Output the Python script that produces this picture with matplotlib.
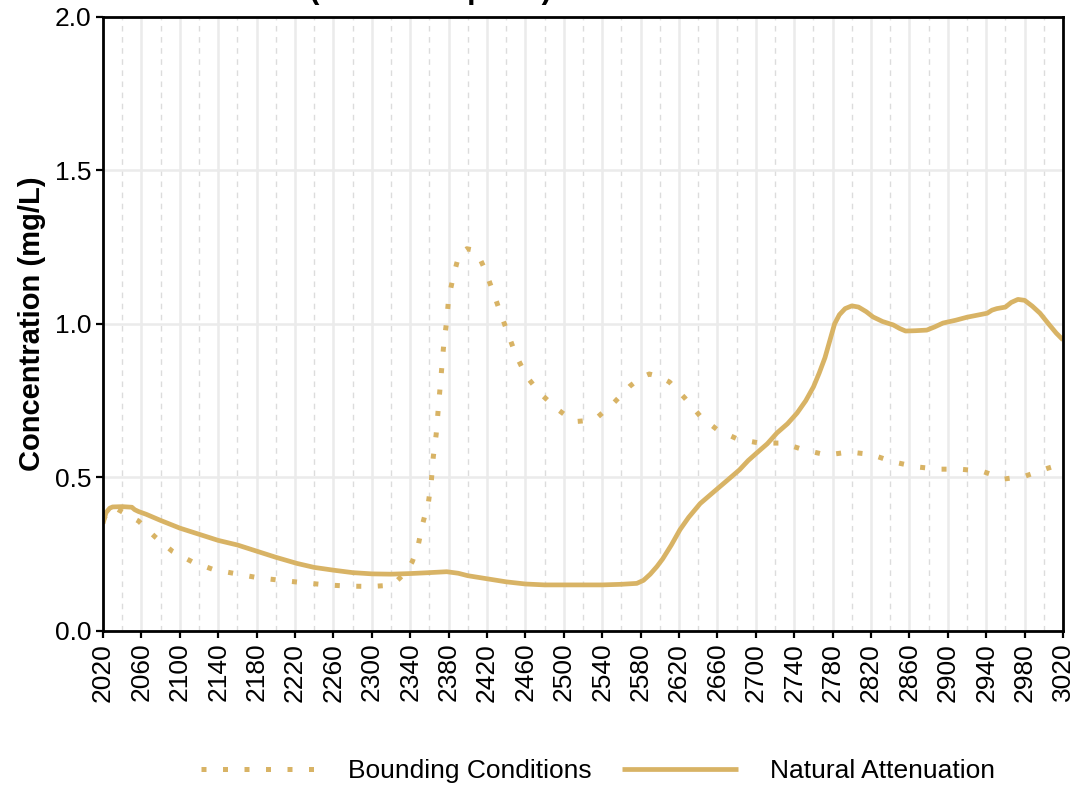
import numpy as np
import matplotlib.pyplot as plt

# Natural Attenuation (solid)
na_year = [2020, 2023, 2027, 2030, 2040, 2050, 2053, 2057, 2065, 2080, 2100, 2120, 2140, 2160,
           2180, 2200, 2222, 2240, 2260, 2280, 2300, 2320, 2340, 2360, 2378, 2390, 2400, 2420,
           2440, 2460, 2480, 2500, 2520, 2540, 2560, 2576, 2583, 2590, 2597, 2603, 2612, 2621,
           2630, 2642, 2655, 2670, 2683, 2692, 2701, 2712, 2722, 2733, 2743, 2752, 2760, 2766,
           2772, 2777, 2782, 2787, 2793, 2800, 2807, 2815, 2822, 2832, 2843, 2850, 2856, 2866,
           2878, 2886, 2895, 2908, 2920, 2941, 2946, 2951, 2960, 2966, 2973, 2980, 2988, 2996,
           3005, 3013, 3020]
na_conc = [0.35, 0.385, 0.40, 0.404, 0.405, 0.403, 0.395, 0.389, 0.38, 0.36, 0.335, 0.315, 0.295, 0.28,
           0.26, 0.24, 0.22, 0.207, 0.198, 0.19, 0.186, 0.185, 0.187, 0.19, 0.193, 0.188, 0.18, 0.17,
           0.16, 0.153, 0.15, 0.15, 0.15, 0.15, 0.152, 0.155, 0.165, 0.185, 0.21, 0.235, 0.28, 0.33,
           0.37, 0.415, 0.45, 0.49, 0.525, 0.555, 0.58, 0.61, 0.645, 0.675, 0.71, 0.75, 0.795, 0.84,
           0.89, 0.945, 1.0, 1.03, 1.05, 1.059, 1.055, 1.04, 1.023, 1.008, 0.997, 0.985, 0.977, 0.978,
           0.98, 0.99, 1.003, 1.012, 1.022, 1.035, 1.045, 1.05, 1.055, 1.07, 1.08, 1.077, 1.058, 1.035,
           1.0, 0.97, 0.948]

# Bounding Conditions (dotted)
bc_year = [2020, 2025, 2033, 2040, 2057, 2074, 2092, 2113, 2135, 2159, 2182, 2205, 2229, 2253,
           2276, 2300, 2315, 2325, 2335, 2342, 2348, 2353, 2359, 2362, 2364, 2367, 2369, 2371,
           2373, 2375, 2378, 2380, 2385, 2391, 2399, 2407, 2413, 2418, 2426, 2434, 2442, 2450,
           2461, 2475, 2493, 2505, 2512, 2523, 2535, 2552, 2569, 2580, 2589, 2600, 2610, 2626,
           2642, 2660, 2681, 2704, 2728, 2750, 2774, 2797, 2820, 2843, 2866, 2890, 2913, 2936,
           2959, 2981, 3004, 3020]
bc_conc = [0.36, 0.39, 0.40, 0.388, 0.358, 0.307, 0.26, 0.225, 0.20, 0.186, 0.173, 0.165, 0.157, 0.15,
           0.146, 0.145, 0.148, 0.16, 0.19, 0.225, 0.275, 0.35, 0.42, 0.49, 0.567, 0.64, 0.716, 0.79,
           0.863, 0.937, 1.01, 1.084, 1.157, 1.228, 1.245, 1.24, 1.21, 1.176, 1.107, 1.036, 0.967, 0.899,
           0.83, 0.775, 0.723, 0.695, 0.682, 0.685, 0.696, 0.743, 0.798, 0.825, 0.837, 0.828, 0.811, 0.759,
           0.70, 0.655, 0.625, 0.612, 0.612, 0.59, 0.573, 0.583, 0.575, 0.551, 0.535, 0.527, 0.527, 0.52,
           0.495, 0.505, 0.53, 0.545]

x_ticks = list(range(2020, 3021, 40))
x_minor = list(range(2040, 3020, 40))
y_ticks = [0.0, 0.5, 1.0, 1.5, 2.0]

gold = '#D8B365'
plt.rcParams['font.family'] = ['Liberation Sans', 'DejaVu Sans']

fig = plt.figure(figsize=(10.79, 7.89), dpi=100)
ax = fig.add_axes([0.0955, 0.2003, 0.8897, 0.7782])

ax.plot(bc_year, bc_conc, color=gold, lw=3.6, linestyle=(0, (1, 3.3)),
        dash_capstyle='butt', label='Bounding Conditions')
ax.plot(na_year, na_conc, color=gold, lw=3.4, solid_capstyle='butt', label='Natural Attenuation')

ax.set_xlim(2020, 3020)
ax.set_ylim(0, 2)
ax.set_xticks(x_ticks)
ax.set_xticks(x_minor, minor=True)
ax.set_yticks(y_ticks)
ax.set_yticklabels([f'{v:.1f}' for v in y_ticks])
ax.grid(which='major', color='#EBEBEB', lw=1.8)
ax.grid(which='minor', axis='x', color='#DCDCDC', lw=1.0, linestyle=(0, (4, 4)))
ax.set_axisbelow(True)
ax.tick_params(axis='x', which='major', labelrotation=90)
ax.tick_params(which='major', length=5, width=1.6, labelsize=19, colors='black')
ax.tick_params(which='minor', length=0)
for s in ax.spines.values():
    s.set_linewidth(2.0)
    s.set_color('black')

ax.set_ylabel('Concentration (mg/L)', fontsize=21, fontweight='bold', labelpad=6)

fig.text(552 / 1079, 1.002, 'Uranium (Alluvial Aquifer)', fontsize=22, fontweight='bold',
         ha='right', va='baseline')

fig.legend(loc='center', bbox_to_anchor=(0.554, 1 - 771 / 789), ncol=2, frameon=False,
           fontsize=19, handlelength=4.4, handletextpad=1.2, columnspacing=1.15)

fig.savefig('out.png', dpi=100)
